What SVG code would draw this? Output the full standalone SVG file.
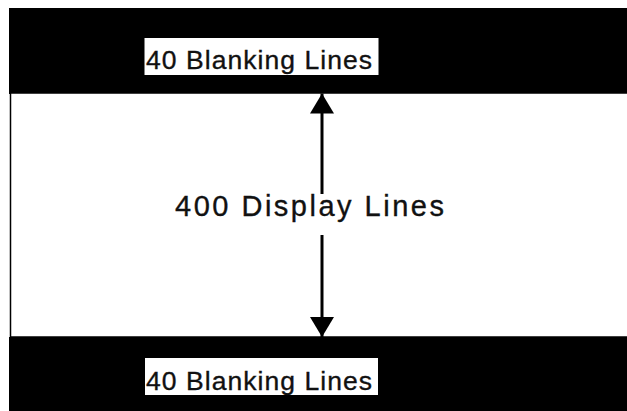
<svg xmlns="http://www.w3.org/2000/svg" width="627" height="411" viewBox="0 0 627 411">
  <defs>
    <style>
      .band { fill: #000; }
      .label-box { fill: #fff; stroke: #000; stroke-width: 1; }
      .label { font-family: "Liberation Sans", Arial, sans-serif; fill: #111; stroke: #111; stroke-width: 0.35; }
      .conn { stroke: #000; stroke-width: 3; fill: none; }
    </style>
    <marker id="arrow" viewBox="0 0 20 24" refX="20" refY="12" markerWidth="20" markerHeight="24" markerUnits="userSpaceOnUse" orient="auto">
      <path d="M0,0 L20,12 L0,24 Z" fill="#000"/>
    </marker>
  </defs>
  <rect width="627" height="411" fill="#fff"/>

  <g id="top-blanking">
    <rect class="band" x="9" y="8" width="618" height="86"/>
    <rect class="label-box" x="144" y="37.5" width="235" height="38"/>
    <text class="label" x="146" y="68.5" font-size="26.5" letter-spacing="1.05">40 Blanking Lines</text>
  </g>

  <g id="display-area">
    <rect x="10.5" y="93" width="618" height="244" fill="#fff" stroke="#000" stroke-width="1.5"/>
    <text class="label" x="175" y="216" font-size="29" letter-spacing="2.5">400 Display Lines</text>
  </g>

  <g id="bottom-blanking">
    <rect class="band" x="9" y="337" width="618" height="74"/>
    <rect class="label-box" x="144.5" y="357.5" width="234" height="38"/>
    <text class="label" x="146" y="389.5" font-size="26.5" letter-spacing="1.05">40 Blanking Lines</text>
  </g>

  <g id="connectors">
    <line class="conn" x1="322" y1="194" x2="322" y2="93.5" marker-end="url(#arrow)"/>
    <line class="conn" x1="322" y1="235" x2="322" y2="337" marker-end="url(#arrow)"/>
  </g>
</svg>
